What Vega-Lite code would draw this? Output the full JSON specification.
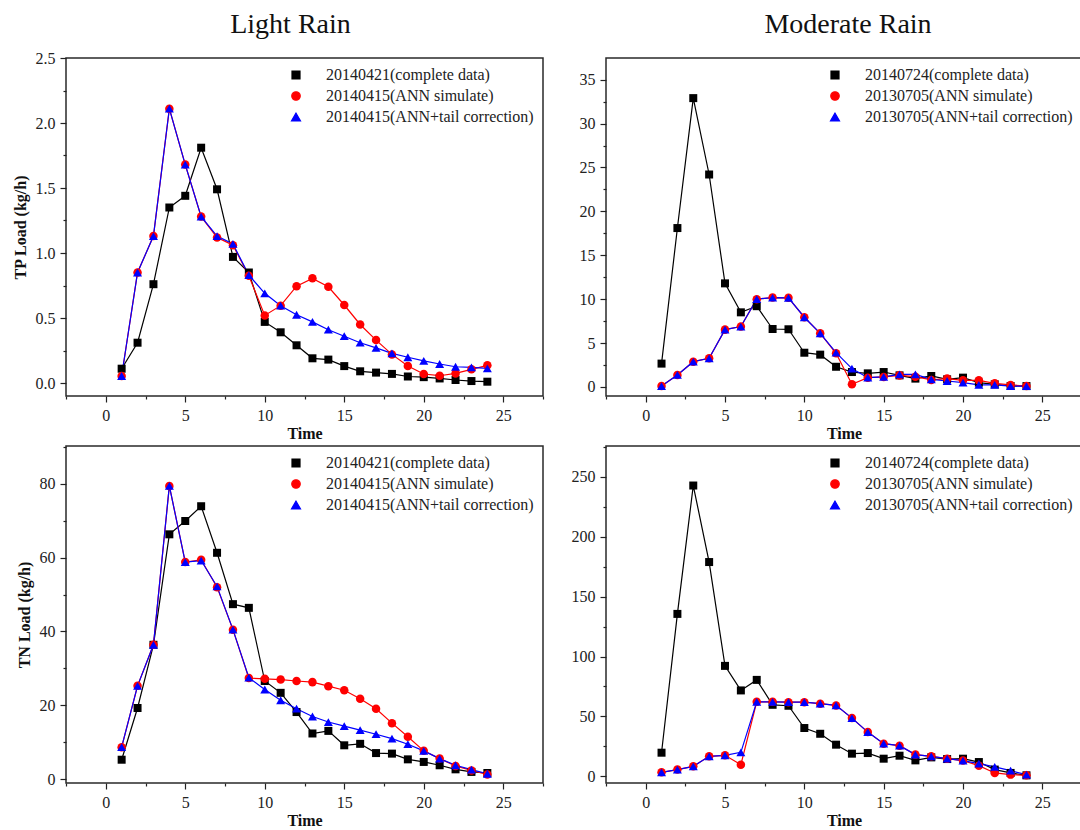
{
  "$schema": "https://vega.github.io/schema/vega-lite/v6.json",
  "padding": {"left": 11, "top": 10, "right": 0, "bottom": 0},
  "columns": 2,
  "spacing": {"row": 50, "column": 63},
  "bounds": "flush",
  "resolve": {"scale": {"color": "independent", "shape": "independent", "size": "independent"}, "legend": {"color": "independent", "shape": "independent", "size": "independent"}},
  "datasets": {
    "tpLight": [
      {"time":1,"series":"complete","load":0.11},{"time":2,"series":"complete","load":0.31},{"time":3,"series":"complete","load":0.76},{"time":4,"series":"complete","load":1.35},{"time":5,"series":"complete","load":1.44},{"time":6,"series":"complete","load":1.81},{"time":7,"series":"complete","load":1.49},{"time":8,"series":"complete","load":0.97},{"time":9,"series":"complete","load":0.85},{"time":10,"series":"complete","load":0.47},{"time":11,"series":"complete","load":0.39},{"time":12,"series":"complete","load":0.29},{"time":13,"series":"complete","load":0.19},{"time":14,"series":"complete","load":0.18},{"time":15,"series":"complete","load":0.13},{"time":16,"series":"complete","load":0.09},{"time":17,"series":"complete","load":0.08},{"time":18,"series":"complete","load":0.07},{"time":19,"series":"complete","load":0.05},{"time":20,"series":"complete","load":0.045},{"time":21,"series":"complete","load":0.035},{"time":22,"series":"complete","load":0.023},{"time":23,"series":"complete","load":0.015},{"time":24,"series":"complete","load":0.01},
      {"time":1,"series":"ann","load":0.054},{"time":2,"series":"ann","load":0.85},{"time":3,"series":"ann","load":1.13},{"time":4,"series":"ann","load":2.11},{"time":5,"series":"ann","load":1.68},{"time":6,"series":"ann","load":1.28},{"time":7,"series":"ann","load":1.12},{"time":8,"series":"ann","load":1.06},{"time":9,"series":"ann","load":0.825},{"time":10,"series":"ann","load":0.52},{"time":11,"series":"ann","load":0.595},{"time":12,"series":"ann","load":0.745},{"time":13,"series":"ann","load":0.805},{"time":14,"series":"ann","load":0.74},{"time":15,"series":"ann","load":0.6},{"time":16,"series":"ann","load":0.45},{"time":17,"series":"ann","load":0.33},{"time":18,"series":"ann","load":0.22},{"time":19,"series":"ann","load":0.13},{"time":20,"series":"ann","load":0.069},{"time":21,"series":"ann","load":0.056},{"time":22,"series":"ann","load":0.074},{"time":23,"series":"ann","load":0.105},{"time":24,"series":"ann","load":0.136},
      {"time":1,"series":"tail","load":0.054},{"time":2,"series":"tail","load":0.85},{"time":3,"series":"tail","load":1.13},{"time":4,"series":"tail","load":2.11},{"time":5,"series":"tail","load":1.68},{"time":6,"series":"tail","load":1.28},{"time":7,"series":"tail","load":1.13},{"time":8,"series":"tail","load":1.07},{"time":9,"series":"tail","load":0.83},{"time":10,"series":"tail","load":0.69},{"time":11,"series":"tail","load":0.595},{"time":12,"series":"tail","load":0.525},{"time":13,"series":"tail","load":0.47},{"time":14,"series":"tail","load":0.41},{"time":15,"series":"tail","load":0.36},{"time":16,"series":"tail","load":0.31},{"time":17,"series":"tail","load":0.27},{"time":18,"series":"tail","load":0.228},{"time":19,"series":"tail","load":0.198},{"time":20,"series":"tail","load":0.17},{"time":21,"series":"tail","load":0.146},{"time":22,"series":"tail","load":0.125},{"time":23,"series":"tail","load":0.12},{"time":24,"series":"tail","load":0.113}
    ],
    "tpMod": [
      {"time":1,"series":"complete","load":2.66},{"time":2,"series":"complete","load":18.1},{"time":3,"series":"complete","load":32.9},{"time":4,"series":"complete","load":24.2},{"time":5,"series":"complete","load":11.8},{"time":6,"series":"complete","load":8.5},{"time":7,"series":"complete","load":9.2},{"time":8,"series":"complete","load":6.6},{"time":9,"series":"complete","load":6.57},{"time":10,"series":"complete","load":3.9},{"time":11,"series":"complete","load":3.68},{"time":12,"series":"complete","load":2.3},{"time":13,"series":"complete","load":1.7},{"time":14,"series":"complete","load":1.55},{"time":15,"series":"complete","load":1.7},{"time":16,"series":"complete","load":1.32},{"time":17,"series":"complete","load":0.95},{"time":18,"series":"complete","load":1.25},{"time":19,"series":"complete","load":0.87},{"time":20,"series":"complete","load":1.06},{"time":21,"series":"complete","load":0.49},{"time":22,"series":"complete","load":0.3},{"time":23,"series":"complete","load":0.11},{"time":24,"series":"complete","load":0.1},
      {"time":1,"series":"ann","load":0.1},{"time":2,"series":"ann","load":1.37},{"time":3,"series":"ann","load":2.88},{"time":4,"series":"ann","load":3.26},{"time":5,"series":"ann","load":6.53},{"time":6,"series":"ann","load":6.88},{"time":7,"series":"ann","load":10.0},{"time":8,"series":"ann","load":10.18},{"time":9,"series":"ann","load":10.15},{"time":10,"series":"ann","load":7.94},{"time":11,"series":"ann","load":6.11},{"time":12,"series":"ann","load":3.83},{"time":13,"series":"ann","load":0.3},{"time":14,"series":"ann","load":1.06},{"time":15,"series":"ann","load":1.14},{"time":16,"series":"ann","load":1.32},{"time":17,"series":"ann","load":1.17},{"time":18,"series":"ann","load":0.8},{"time":19,"series":"ann","load":0.95},{"time":20,"series":"ann","load":0.75},{"time":21,"series":"ann","load":0.75},{"time":22,"series":"ann","load":0.41},{"time":23,"series":"ann","load":0.23},{"time":24,"series":"ann","load":0.1},
      {"time":1,"series":"tail","load":0.1},{"time":2,"series":"tail","load":1.37},{"time":3,"series":"tail","load":2.88},{"time":4,"series":"tail","load":3.26},{"time":5,"series":"tail","load":6.53},{"time":6,"series":"tail","load":6.88},{"time":7,"series":"tail","load":10.0},{"time":8,"series":"tail","load":10.18},{"time":9,"series":"tail","load":10.15},{"time":10,"series":"tail","load":7.94},{"time":11,"series":"tail","load":6.11},{"time":12,"series":"tail","load":3.9},{"time":13,"series":"tail","load":2.09},{"time":14,"series":"tail","load":1.06},{"time":15,"series":"tail","load":1.14},{"time":16,"series":"tail","load":1.44},{"time":17,"series":"tail","load":1.44},{"time":18,"series":"tail","load":0.87},{"time":19,"series":"tail","load":0.68},{"time":20,"series":"tail","load":0.49},{"time":21,"series":"tail","load":0.23},{"time":22,"series":"tail","load":0.23},{"time":23,"series":"tail","load":0.1},{"time":24,"series":"tail","load":0.1}
    ],
    "tnLight": [
      {"time":1,"series":"complete","load":5.3},{"time":2,"series":"complete","load":19.3},{"time":3,"series":"complete","load":36.4},{"time":4,"series":"complete","load":66.3},{"time":5,"series":"complete","load":69.9},{"time":6,"series":"complete","load":73.9},{"time":7,"series":"complete","load":61.3},{"time":8,"series":"complete","load":47.4},{"time":9,"series":"complete","load":46.4},{"time":10,"series":"complete","load":26.6},{"time":11,"series":"complete","load":23.4},{"time":12,"series":"complete","load":18.2},{"time":13,"series":"complete","load":12.4},{"time":14,"series":"complete","load":13.1},{"time":15,"series":"complete","load":9.2},{"time":16,"series":"complete","load":9.6},{"time":17,"series":"complete","load":7.1},{"time":18,"series":"complete","load":6.95},{"time":19,"series":"complete","load":5.4},{"time":20,"series":"complete","load":4.7},{"time":21,"series":"complete","load":3.8},{"time":22,"series":"complete","load":2.7},{"time":23,"series":"complete","load":2.0},{"time":24,"series":"complete","load":1.7},
      {"time":1,"series":"ann","load":8.7},{"time":2,"series":"ann","load":25.3},{"time":3,"series":"ann","load":36.4},{"time":4,"series":"ann","load":79.4},{"time":5,"series":"ann","load":58.8},{"time":6,"series":"ann","load":59.4},{"time":7,"series":"ann","load":52.0},{"time":8,"series":"ann","load":40.5},{"time":9,"series":"ann","load":27.4},{"time":10,"series":"ann","load":27.2},{"time":11,"series":"ann","load":27.0},{"time":12,"series":"ann","load":26.6},{"time":13,"series":"ann","load":26.3},{"time":14,"series":"ann","load":25.2},{"time":15,"series":"ann","load":24.1},{"time":16,"series":"ann","load":21.8},{"time":17,"series":"ann","load":19.1},{"time":18,"series":"ann","load":15.2},{"time":19,"series":"ann","load":11.5},{"time":20,"series":"ann","load":7.7},{"time":21,"series":"ann","load":5.6},{"time":22,"series":"ann","load":3.6},{"time":23,"series":"ann","load":2.4},{"time":24,"series":"ann","load":1.3},
      {"time":1,"series":"tail","load":8.7},{"time":2,"series":"tail","load":25.3},{"time":3,"series":"tail","load":36.4},{"time":4,"series":"tail","load":79.4},{"time":5,"series":"tail","load":58.8},{"time":6,"series":"tail","load":59.2},{"time":7,"series":"tail","load":52.2},{"time":8,"series":"tail","load":40.5},{"time":9,"series":"tail","load":27.5},{"time":10,"series":"tail","load":24.3},{"time":11,"series":"tail","load":21.4},{"time":12,"series":"tail","load":19.1},{"time":13,"series":"tail","load":17.0},{"time":14,"series":"tail","load":15.5},{"time":15,"series":"tail","load":14.4},{"time":16,"series":"tail","load":13.3},{"time":17,"series":"tail","load":12.2},{"time":18,"series":"tail","load":11.0},{"time":19,"series":"tail","load":9.5},{"time":20,"series":"tail","load":7.7},{"time":21,"series":"tail","load":5.6},{"time":22,"series":"tail","load":3.8},{"time":23,"series":"tail","load":2.6},{"time":24,"series":"tail","load":1.5}
    ],
    "tnMod": [
      {"time":1,"series":"complete","load":19.7},{"time":2,"series":"complete","load":135.6},{"time":3,"series":"complete","load":242.8},{"time":4,"series":"complete","load":178.9},{"time":5,"series":"complete","load":92.2},{"time":6,"series":"complete","load":71.7},{"time":7,"series":"complete","load":80.5},{"time":8,"series":"complete","load":59.7},{"time":9,"series":"complete","load":58.9},{"time":10,"series":"complete","load":40.3},{"time":11,"series":"complete","load":35.5},{"time":12,"series":"complete","load":26.4},{"time":13,"series":"complete","load":18.9},{"time":14,"series":"complete","load":19.4},{"time":15,"series":"complete","load":14.7},{"time":16,"series":"complete","load":17.2},{"time":17,"series":"complete","load":13.3},{"time":18,"series":"complete","load":15.8},{"time":19,"series":"complete","load":14.4},{"time":20,"series":"complete","load":14.7},{"time":21,"series":"complete","load":11.9},{"time":22,"series":"complete","load":5.6},{"time":23,"series":"complete","load":2.8},{"time":24,"series":"complete","load":0.8},
      {"time":1,"series":"ann","load":3.3},{"time":2,"series":"ann","load":5.6},{"time":3,"series":"ann","load":8.3},{"time":4,"series":"ann","load":16.7},{"time":5,"series":"ann","load":17.5},{"time":6,"series":"ann","load":9.7},{"time":7,"series":"ann","load":62.2},{"time":8,"series":"ann","load":62.2},{"time":9,"series":"ann","load":61.9},{"time":10,"series":"ann","load":61.9},{"time":11,"series":"ann","load":60.6},{"time":12,"series":"ann","load":59.2},{"time":13,"series":"ann","load":48.6},{"time":14,"series":"ann","load":36.9},{"time":15,"series":"ann","load":27.2},{"time":16,"series":"ann","load":25.6},{"time":17,"series":"ann","load":18.1},{"time":18,"series":"ann","load":16.7},{"time":19,"series":"ann","load":14.7},{"time":20,"series":"ann","load":13.1},{"time":21,"series":"ann","load":8.9},{"time":22,"series":"ann","load":2.8},{"time":23,"series":"ann","load":1.4},{"time":24,"series":"ann","load":0.8},
      {"time":1,"series":"tail","load":3.3},{"time":2,"series":"tail","load":5.6},{"time":3,"series":"tail","load":8.3},{"time":4,"series":"tail","load":16.7},{"time":5,"series":"tail","load":17.5},{"time":6,"series":"tail","load":20.0},{"time":7,"series":"tail","load":62.2},{"time":8,"series":"tail","load":62.2},{"time":9,"series":"tail","load":61.9},{"time":10,"series":"tail","load":61.9},{"time":11,"series":"tail","load":60.6},{"time":12,"series":"tail","load":59.2},{"time":13,"series":"tail","load":48.6},{"time":14,"series":"tail","load":36.9},{"time":15,"series":"tail","load":27.2},{"time":16,"series":"tail","load":25.6},{"time":17,"series":"tail","load":18.1},{"time":18,"series":"tail","load":16.7},{"time":19,"series":"tail","load":14.7},{"time":20,"series":"tail","load":13.1},{"time":21,"series":"tail","load":10.6},{"time":22,"series":"tail","load":7.8},{"time":23,"series":"tail","load":4.7},{"time":24,"series":"tail","load":1.4}
    ]
  },
  "concat": [
    {
      "width": 477, "height": 338,
      "title": {"text": "Light Rain", "dx": -14, "offset": 11},
      "data": {"name": "tpLight"},
      "encoding": {
        "x": {"field": "time", "type": "quantitative", "scale": {"domain": [-2.5, 27.5], "nice": false, "zero": false},
          "axis": {"title": "Time", "values": [-2.5,0,2.5,5,7.5,10,12.5,15,17.5,20,22.5,25,27.5],
            "labelExpr": "datum.value % 5 === 0 && datum.value >= 0 && datum.value <= 25 ? format(datum.value, 'd') : ''",
            "tickSize": {"condition": {"test": "datum.value % 5 === 0", "value": 6}, "value": 3}}},
        "y": {"field": "load", "type": "quantitative", "scale": {"domain": [-0.1, 2.5], "nice": false, "zero": false},
          "axis": {"title": "TP Load (kg/h)", "values": [0,0.25,0.5,0.75,1,1.25,1.5,1.75,2,2.25,2.5],
            "labelExpr": "datum.value % 0.5 === 0 ? format(datum.value, '.1f') : ''",
            "tickSize": {"condition": {"test": "datum.value % 0.5 === 0", "value": 6}, "value": 3}}},
        "color": {"field": "series", "type": "nominal", "scale": {"domain": ["complete","ann","tail"], "range": ["#000000","#ff0000","#0000ff"]},
          "legend": {"labelExpr": "datum.value === 'complete' ? '20140421(complete data)' : datum.value === 'ann' ? '20140415(ANN simulate)' : '20140415(ANN+tail correction)'"}}
      },
      "layer": [
        {"mark": {"type": "line", "strokeWidth": 1.2}},
        {"mark": {"type": "point", "filled": true, "opacity": 1},
         "encoding": {
           "shape": {"field": "series", "type": "nominal", "scale": {"domain": ["complete","ann","tail"], "range": ["square","circle","triangle-up"]}, "legend": null},
           "size": {"field": "series", "type": "nominal", "scale": {"domain": ["complete","ann","tail"], "range": [64, 81, 110]}, "legend": null}
         }}
      ]
    },
    {
      "width": 476, "height": 338,
      "title": {"text": "Moderate Rain", "dx": 4, "offset": 19},
      "data": {"name": "tpMod"},
      "encoding": {
        "x": {"field": "time", "type": "quantitative", "scale": {"domain": [-2.5, 27.5], "nice": false, "zero": false},
          "axis": {"title": "Time", "values": [-2.5,0,2.5,5,7.5,10,12.5,15,17.5,20,22.5,25,27.5],
            "labelExpr": "datum.value % 5 === 0 && datum.value >= 0 && datum.value <= 25 ? format(datum.value, 'd') : ''",
            "tickSize": {"condition": {"test": "datum.value % 5 === 0", "value": 6}, "value": 3}}},
        "y": {"field": "load", "type": "quantitative", "scale": {"domain": [-1.03, 37.47], "nice": false, "zero": false},
          "axis": {"title": null, "values": [0,2.5,5,7.5,10,12.5,15,17.5,20,22.5,25,27.5,30,32.5,35],
            "labelExpr": "datum.value % 5 === 0 ? format(datum.value, 'd') : ''",
            "tickSize": {"condition": {"test": "datum.value % 5 === 0", "value": 6}, "value": 3}}},
        "color": {"field": "series", "type": "nominal", "scale": {"domain": ["complete","ann","tail"], "range": ["#000000","#ff0000","#0000ff"]},
          "legend": {"labelExpr": "datum.value === 'complete' ? '20140724(complete data)' : datum.value === 'ann' ? '20130705(ANN simulate)' : '20130705(ANN+tail correction)'"}}
      },
      "layer": [
        {"mark": {"type": "line", "strokeWidth": 1.2}},
        {"mark": {"type": "point", "filled": true, "opacity": 1},
         "encoding": {
           "shape": {"field": "series", "type": "nominal", "scale": {"domain": ["complete","ann","tail"], "range": ["square","circle","triangle-up"]}, "legend": null},
           "size": {"field": "series", "type": "nominal", "scale": {"domain": ["complete","ann","tail"], "range": [64, 81, 110]}, "legend": null}
         }}
      ]
    },
    {
      "width": 477, "height": 337,
      "data": {"name": "tnLight"},
      "encoding": {
        "x": {"field": "time", "type": "quantitative", "scale": {"domain": [-2.5, 27.5], "nice": false, "zero": false},
          "axis": {"title": "Time", "values": [-2.5,0,2.5,5,7.5,10,12.5,15,17.5,20,22.5,25,27.5],
            "labelExpr": "datum.value % 5 === 0 && datum.value >= 0 && datum.value <= 25 ? format(datum.value, 'd') : ''",
            "tickSize": {"condition": {"test": "datum.value % 5 === 0", "value": 6}, "value": 3}}},
        "y": {"field": "load", "type": "quantitative", "scale": {"domain": [-1, 90.2], "nice": false, "zero": false},
          "axis": {"title": "TN Load (kg/h)", "values": [0,10,20,30,40,50,60,70,80,90],
            "labelExpr": "datum.value % 20 === 0 && datum.value <= 80 ? format(datum.value, 'd') : ''",
            "tickSize": {"condition": {"test": "datum.value % 20 === 0", "value": 6}, "value": 3}}},
        "color": {"field": "series", "type": "nominal", "scale": {"domain": ["complete","ann","tail"], "range": ["#000000","#ff0000","#0000ff"]},
          "legend": {"labelExpr": "datum.value === 'complete' ? '20140421(complete data)' : datum.value === 'ann' ? '20140415(ANN simulate)' : '20140415(ANN+tail correction)'"}}
      },
      "layer": [
        {"mark": {"type": "line", "strokeWidth": 1.2}},
        {"mark": {"type": "point", "filled": true, "opacity": 1},
         "encoding": {
           "shape": {"field": "series", "type": "nominal", "scale": {"domain": ["complete","ann","tail"], "range": ["square","circle","triangle-up"]}, "legend": null},
           "size": {"field": "series", "type": "nominal", "scale": {"domain": ["complete","ann","tail"], "range": [64, 81, 110]}, "legend": null}
         }}
      ]
    },
    {
      "width": 476, "height": 337,
      "data": {"name": "tnMod"},
      "encoding": {
        "x": {"field": "time", "type": "quantitative", "scale": {"domain": [-2.5, 27.5], "nice": false, "zero": false},
          "axis": {"title": "Time", "values": [-2.5,0,2.5,5,7.5,10,12.5,15,17.5,20,22.5,25,27.5],
            "labelExpr": "datum.value % 5 === 0 && datum.value >= 0 && datum.value <= 25 ? format(datum.value, 'd') : ''",
            "tickSize": {"condition": {"test": "datum.value % 5 === 0", "value": 6}, "value": 3}}},
        "y": {"field": "load", "type": "quantitative", "scale": {"domain": [-5.6, 275.8], "nice": false, "zero": false},
          "axis": {"title": null, "values": [0,25,50,75,100,125,150,175,200,225,250,275],
            "labelExpr": "datum.value % 50 === 0 ? format(datum.value, 'd') : ''",
            "tickSize": {"condition": {"test": "datum.value % 50 === 0", "value": 6}, "value": 3}}},
        "color": {"field": "series", "type": "nominal", "scale": {"domain": ["complete","ann","tail"], "range": ["#000000","#ff0000","#0000ff"]},
          "legend": {"labelExpr": "datum.value === 'complete' ? '20140724(complete data)' : datum.value === 'ann' ? '20130705(ANN simulate)' : '20130705(ANN+tail correction)'"}}
      },
      "layer": [
        {"mark": {"type": "line", "strokeWidth": 1.2}},
        {"mark": {"type": "point", "filled": true, "opacity": 1},
         "encoding": {
           "shape": {"field": "series", "type": "nominal", "scale": {"domain": ["complete","ann","tail"], "range": ["square","circle","triangle-up"]}, "legend": null},
           "size": {"field": "series", "type": "nominal", "scale": {"domain": ["complete","ann","tail"], "range": [64, 81, 110]}, "legend": null}
         }}
      ]
    }
  ],
  "config": {
    "font": "Liberation Serif",
    "view": {"stroke": "#2a2a2a", "strokeWidth": 1.5},
    "axis": {"domain": false, "grid": false, "labelFont": "Liberation Serif", "labelFontSize": 16, "labelColor": "#222222", "tickColor": "#222222", "tickWidth": 1.2,
      "labelPadding": 5, "labelOverlap": false, "labelFlush": false, "titleFont": "Liberation Serif", "titleFontSize": 16, "titleFontWeight": "bold", "titleColor": "#111111", "titlePadding": 2},
    "axisY": {"titlePadding": 7},
    "title": {"font": "Liberation Serif", "fontSize": 28, "fontWeight": "normal", "color": "#111111", "anchor": "middle", "baseline": "alphabetic"},
    "legend": {
      "title": null, "orient": "top-right", "offset": 9, "padding": 0,
      "labelFont": "Liberation Serif", "labelFontSize": 16, "labelColor": "#222222", "labelLimit": 400,
      "symbolSize": 70, "symbolStrokeWidth": 1.2, "symbolOffset": 11, "labelOffset": 22, "rowPadding": 5
    }
  }
}
